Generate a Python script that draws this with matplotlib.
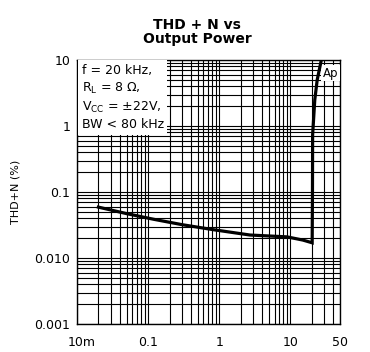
import matplotlib
matplotlib.use("Agg")
from matplotlib import pyplot as plt
from matplotlib import transforms
from matplotlib.ticker import LogLocator, FixedLocator, NullFormatter

# THD+N vs output power, f = 20 kHz
power = [0.02, 0.05, 0.12, 0.3, 0.8, 2.7, 9, 15, 20.3, 20.5, 20.6, 22.1, 23.9, 27.3]
thd = [0.059, 0.047, 0.0386, 0.032, 0.027, 0.0223, 0.0209, 0.0187, 0.017, 0.1, 0.73, 2.5, 5.0, 10]

x_ticks = [0.01, 0.1, 1, 10, 50]
x_labels = ["10m", "0.1", "1", "10", "50"]
y_ticks = [0.001, 0.01, 0.1, 1, 10]
y_labels = ["0.001", "0.010", "0.1", "1", "10"]

plt.rcParams['font.family'] = ['DejaVu Sans']
plt.rcParams['mathtext.default'] = 'regular'

fig = plt.figure(figsize=(3.70, 3.52), dpi=100)
ax = fig.add_axes([77/370, 28/352, 263/370, 264/352])

ax.set_xscale('log')
ax.set_yscale('log')
ax.set_xlim(0.01, 50)
ax.set_ylim(0.001, 10)

ax.xaxis.set_major_locator(FixedLocator(x_ticks))
ax.set_xticklabels(x_labels)
ax.yaxis.set_major_locator(FixedLocator(y_ticks))
ax.set_yticklabels(y_labels)
ax.xaxis.set_minor_locator(LogLocator(base=10, subs=range(2, 10), numticks=20))
ax.yaxis.set_minor_locator(LogLocator(base=10, subs=range(2, 10), numticks=20))
ax.xaxis.set_minor_formatter(NullFormatter())
ax.yaxis.set_minor_formatter(NullFormatter())

ax.grid(True, which='both', color='black', linewidth=0.8)
ax.tick_params(which='both', length=0, labelsize=9)
ax.tick_params(axis='x', pad=9)
ax.tick_params(axis='y', pad=5)
for s in ax.spines.values():
  s.set_linewidth(1.0)
  s.set_color('black')

# nudge the "10m" label to the right, like the datasheet
lbl = ax.get_xticklabels()[0]
lbl.set_transform(lbl.get_transform() + transforms.ScaledTranslation(5/100, 0, fig.dpi_scale_trans))

ax.plot(power, thd, color='black', linewidth=2.3, solid_joinstyle='miter', clip_on=True, zorder=5)

ax.text(0.018, 0.985,
        "f = 20 kHz,\nR$_{L}$ = 8 Ω,\nV$_{CC}$ = ±22V,\nBW < 80 kHz",
        transform=ax.transAxes, ha='left', va='top', fontsize=9, linespacing=1.35,
        bbox=dict(facecolor='white', edgecolor='none', pad=2.5), zorder=4)

ax.text(0.993, 0.975, "Ap", transform=ax.transAxes, ha='right', va='top', fontsize=8.5,
        bbox=dict(facecolor='white', edgecolor='none', pad=1.0), zorder=4)

ax.set_ylabel("THD+N (%)", fontsize=8)
ax.yaxis.set_label_coords(-57/263, 0.5)

fig.text(197/370, 1 - 18/352, "THD + N vs\nOutput Power", ha='center', va='top',
         fontsize=10, fontweight='bold', linespacing=1.0)

fig.savefig("out.png", dpi=100)
